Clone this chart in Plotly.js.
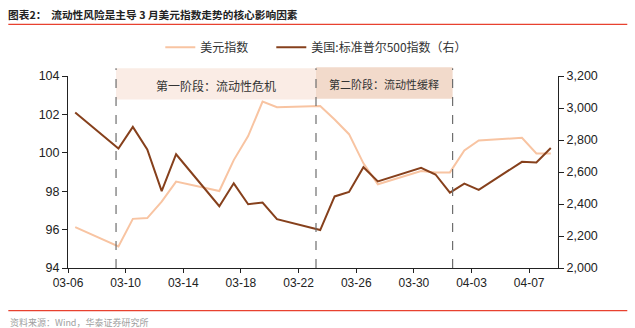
<!DOCTYPE html>
<html>
<head>
<meta charset="utf-8">
<script src="https://cdn.plot.ly/plotly-3.0.1.min.js"></script>
<style>html,body{margin:0;padding:0;background:#fff;}#chart{width:635px;height:328px;}</style>
</head>
<body>
<div id="chart"></div>
<script>
// ---- data ----
const dates = ['2020-03-06','2020-03-09','2020-03-10','2020-03-11','2020-03-12','2020-03-13',
  '2020-03-16','2020-03-17','2020-03-18','2020-03-19','2020-03-20',
  '2020-03-23','2020-03-24','2020-03-25','2020-03-26','2020-03-27',
  '2020-03-30','2020-03-31','2020-04-01','2020-04-02','2020-04-03',
  '2020-04-06','2020-04-07','2020-04-08'];
const usdIndex = [96.13, 95.12, 96.56, 96.60, 97.46, 98.50,
  98.01, 99.62, 100.87, 102.67, 102.37,
  102.44, 101.73, 100.97, 99.45, 98.36,
  99.05, 98.98, 98.98, 100.12, 100.64,
  100.78, 99.97, 99.97];
const sp500 = [2972.37, 2746.56, 2882.23, 2741.38, 2480.64, 2711.02,
  2386.13, 2529.19, 2398.10, 2409.39, 2304.92,
  2237.40, 2447.33, 2475.56, 2630.07, 2541.47,
  2626.65, 2584.59, 2470.50, 2526.90, 2488.65,
  2663.68, 2659.41, 2749.98];
const tickLabels = ['03-06','03-10','03-14','03-18','03-22','03-26','03-30','04-03','04-07'];
const seriesNames = ['美元指数', '美国:标准普尔500指数（右）'];
const phaseLabels = ['第一阶段：流动性危机', '第二阶段：流动性缓释'];
const phaseBounds = ['2020-03-08 20:00', '2020-03-22 17:00', '2020-04-01 04:30'];

// ticks sit at day boundaries (half a day before each point)
const tickVals = tickLabels.map(t => {
  const d = new Date('2020-' + t + 'T00:00:00Z');
  d.setUTCHours(d.getUTCHours() - 12);
  return d.toISOString().slice(0,16).replace('T',' ');
});

const LATIN = 'Liberation Sans, Arial, Noto Sans CJK SC';
const CJK = 'Noto Sans CJK SC, Liberation Sans';

const traces = [
  {x: dates, y: usdIndex, name: seriesNames[0], type: 'scatter', mode: 'lines',
   line: {color: '#F8C4A2', width: 2}, yaxis: 'y', legend: 'legend'},
  {x: dates, y: sp500, name: seriesNames[1], type: 'scatter', mode: 'lines',
   line: {color: '#86401C', width: 2}, yaxis: 'y2', legend: 'legend2'}
];

const redLine = '#E8412F';
const shapes = [
  {type:'rect', xref:'x', yref:'paper', x0: phaseBounds[0], x1: phaseBounds[1], y0: 0.877, y1: 1.04,
   fillcolor:'#FAECE5', line:{width:0}, layer:'below'},
  {type:'rect', xref:'x', yref:'paper', x0: phaseBounds[1], x1: phaseBounds[2], y0: 0.882, y1: 1.045,
   fillcolor:'#F2DACB', line:{width:0}, layer:'below'},
  {type:'line', xref:'paper', yref:'paper', x0:-0.1218, x1:1.1414, y0:1.2684, y1:1.2684,
   line:{color:redLine, width:1.3}},
  {type:'line', xref:'paper', yref:'paper', x0:-0.1218, x1:1.1414, y0:-0.2217, y1:-0.2217,
   line:{color:redLine, width:1.3}}
];
phaseBounds.forEach(b => shapes.push({type:'line', xref:'x', yref:'paper', x0:b, x1:b, y0:0, y1:1.04,
  line:{color:'#6E6E6E', width:1.2, dash:'dash'}}));

function mid(a, b) {
  const ta = new Date(a.replace(' ','T')+':00Z').getTime(), tb = new Date(b.replace(' ','T')+':00Z').getTime();
  return new Date((ta+tb)/2).toISOString().slice(0,16).replace('T',' ');
}

const annotations = [
  {xref:'x', yref:'paper', x: mid(phaseBounds[0], phaseBounds[1]), y: 0.952, text: phaseLabels[0],
   showarrow:false, font:{family:CJK, size:12, color:'#333'}, xanchor:'center', yanchor:'middle'},
  {xref:'x', yref:'paper', x: mid(phaseBounds[1], phaseBounds[2]), y: 0.96, text: phaseLabels[1],
   showarrow:false, font:{family:CJK, size:11, color:'#333'}, xanchor:'center', yanchor:'middle'},
  {xref:'paper', yref:'paper', x:-0.1218, y:-0.2824, text:'资料来源：Wind，华泰证券研究所',
   showarrow:false, font:{family:CJK, size:9, color:'#A0A0A0'}, xanchor:'left', yanchor:'middle'}
];

const legendBase = {orientation:'h', xanchor:'left', y: 1.15, yanchor:'middle',
  font:{family: CJK, size: 12, color:'#333'}, bgcolor:'rgba(0,0,0,0)', itemwidth: 30};

const layout = {
  width: 635, height: 328,
  margin: {l: 67.7, r: 77.3, t: 75.7, b: 59.7, pad: 0},
  paper_bgcolor: '#fff', plot_bgcolor: '#fff',
  title: {text: '<b>图表2：  流动性风险是主导 3 月美元指数走势的核心影响因素</b>',
    xref:'container', yref:'container', x: 8/635, xanchor:'left', y: 1 - 15/328, yanchor:'middle',
    font:{family: CJK, size: 10.7, color:'#222'}},
  showlegend: true,
  legend: Object.assign({}, legendBase, {x: (165 - 67.7 - 5) / 490}),
  legend2: Object.assign({}, legendBase, {x: (276 - 67.7 - 5) / 490}),
  xaxis: {type:'date', range:['2020-03-05 12:00','2020-04-08 12:00'],
    tickmode:'array', tickvals: tickVals, ticktext: tickLabels,
    showgrid:false, zeroline:false, showline:true, linecolor:'#222', linewidth:1,
    ticks:'outside', ticklen:4, tickcolor:'#222',
    tickfont:{family: LATIN, size:12, color:'#222'}},
  yaxis: {range:[94,104], tickvals:[94,96,98,100,102,104], showgrid:false, zeroline:false,
    showline:true, linecolor:'#222', linewidth:1, ticks:'outside', ticklen:5, tickcolor:'#222',
    tickfont:{family: LATIN, size:12.5, color:'#222'}},
  yaxis2: {range:[2000,3200], tickvals:[2000,2200,2400,2600,2800,3000,3200], overlaying:'y', side:'right',
    tickformat:',d', showgrid:false, zeroline:false,
    showline:true, linecolor:'#222', linewidth:1, ticks:'outside', ticklen:5, tickcolor:'#222',
    tickfont:{family: LATIN, size:12.5, color:'#222'}},
  shapes: shapes,
  annotations: annotations
};

Plotly.newPlot('chart', traces, layout, {displayModeBar:false, staticPlot:true});
</script>
</body>
</html>
